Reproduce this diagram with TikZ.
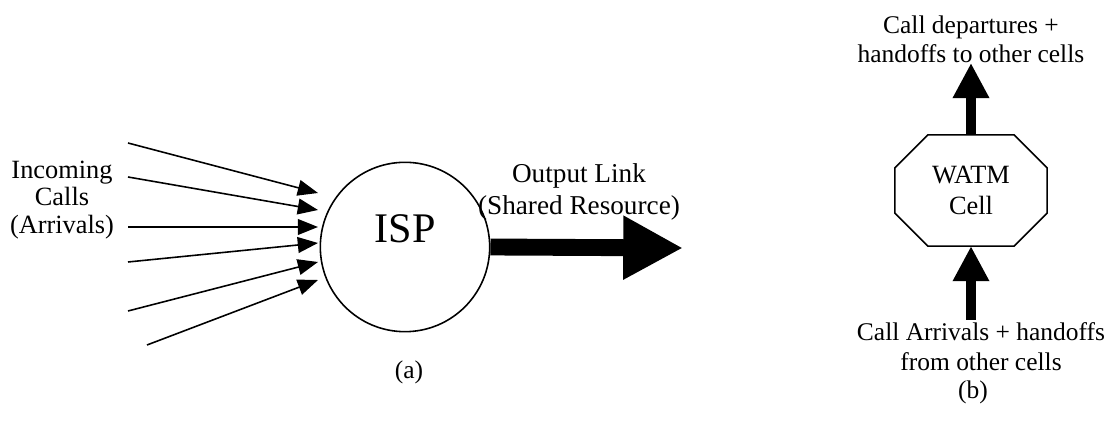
\documentclass[tikz,border=0pt]{standalone}
\usepackage{fontspec}
\setmainfont{Liberation Serif}
\usetikzlibrary{arrows.meta}
\begin{document}
\begin{tikzpicture}[x=0.02cm,y=-0.02cm,
  lbl/.style={font=\fontsize{14.5}{16.5}\selectfont,align=center,inner sep=0pt},
  inarrow/.style={line width=0.9pt,-{Triangle[length=11.5pt,width=9pt]}},
  fatarrow/.style={line width=9.6pt,-{Triangle[length=34pt,width=34pt]}},
  uparrow/.style={line width=5.7pt,-{Triangle[length=20pt,width=19.5pt]}},
  octline/.style={line width=0.9pt,line join=miter}]
\useasboundingbox (0,0) rectangle (1117,421);
% (a)
\node[circle,draw,line width=0.9pt,minimum size=96.4pt,inner sep=0pt] (isp) at (405,247) {};
\node[font=\fontsize{24}{26}\selectfont,inner sep=0pt] (isplbl) at (405,229) {ISP};
\node[lbl,font=\fontsize{15}{15.5}\selectfont] (incoming) at (62,200) {Incoming\\Calls\\(Arrivals)};
\node[lbl,font=\fontsize{15.5}{18.5}\selectfont] (outlbl) at (579,192) {Output Link\\(Shared Resource)};
\node[lbl] (capa) at (409,372) {(a)};
\foreach \i/\sx/\sy/\ty in {1/128/143/193, 2/128/177/210, 3/128/227/227, 4/128/262/243, 5/128/311/262, 6/147/345/280}{
  \coordinate (s\i) at (\sx,\sy);
  \coordinate (t\i) at (318,\ty);
  \draw[inarrow] (s\i) -- (t\i);
}
\coordinate (outtip) at (683,248);
\draw[fatarrow] (isp.east) -- (outtip);
% (b)
\node[minimum width=86.2pt,minimum height=62.9pt,inner sep=0pt,lbl,font=\fontsize{15}{17.5}\selectfont] (cell) at (971,190.5) {WATM\\Cell};
\draw[octline] ([xshift=18.7pt]cell.north west) -- ([xshift=-18.7pt]cell.north east)
  -- ([yshift=-18.7pt]cell.north east) -- ([yshift=18.7pt]cell.south east)
  -- ([xshift=-18.7pt]cell.south east) -- ([xshift=18.7pt]cell.south west)
  -- ([yshift=18.7pt]cell.south west) -- ([yshift=-18.7pt]cell.north west) -- cycle;
\node[lbl] (deplbl) at (971,39) {Call departures +\\handoffs to other cells};
\node[lbl,font=\fontsize{14.5}{17}\selectfont] (arrlbl) at (981,347) {Call Arrivals + handoffs\\from other cells};
\node[lbl] (capb) at (973,392) {(b)};
\coordinate (toptip) at (971,63);
\coordinate (botstart) at (971,320);
\draw[uparrow] (cell.north) -- (toptip);
\draw[uparrow] (botstart) -- (cell.south);
\end{tikzpicture}
\end{document}
